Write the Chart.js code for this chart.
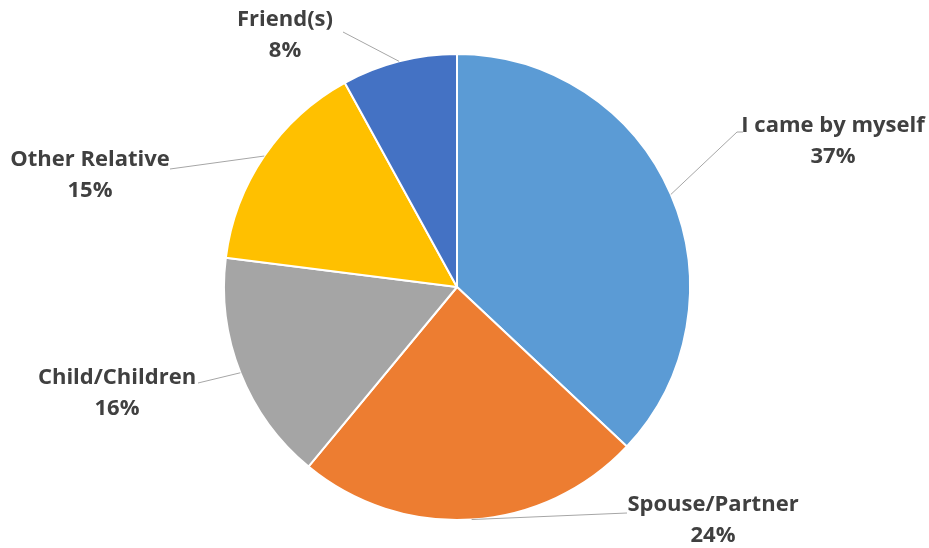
<!DOCTYPE html>
<html>
<head>
<meta charset="utf-8">
<script src="https://cdn.jsdelivr.net/npm/chart.js@4"></script>
<style>
  html, body { margin: 0; padding: 0; background: #fff; }
  #wrap { width: 929px; height: 548px; position: relative; }
</style>
</head>
<body>
<div id="wrap"><canvas id="chart"></canvas></div>
<script>
const categories = ["I came by myself", "Spouse/Partner", "Child/Children", "Other Relative", "Friend(s)"];
const shares = [37, 24, 16, 15, 8];
const sliceColors = ["#5B9BD5", "#ED7D31", "#A5A5A5", "#FFC000", "#4472C4"];

// where each callout sits, offset from the pie centre (px)
// text: centre of the first text line; end: where the leader line stops; elbow: optional bend
const callouts = [
  { text: [376, -161], end: [286, -155], elbow: [280, -155] },
  { text: [256, 218], end: [170, 226] },
  { text: [-340, 91], end: [-259, 96] },
  { text: [-367, -127], end: [-287, -118] },
  { text: [-172, -267], end: [-114, -255] }
];

const calloutPlugin = {
  id: "callouts",
  afterDatasetsDraw(chart) {
    const ctx = chart.ctx;
    const meta = chart.getDatasetMeta(0);
    ctx.save();
    meta.data.forEach((arc, i) => {
      const c = callouts[i];
      const mid = (arc.startAngle + arc.endAngle) / 2;
      const sx = arc.x + Math.cos(mid) * arc.outerRadius;
      const sy = arc.y + Math.sin(mid) * arc.outerRadius;

      ctx.strokeStyle = "#A6A6A6";
      ctx.lineWidth = 1;
      ctx.beginPath();
      ctx.moveTo(sx, sy);
      if (c.elbow) ctx.lineTo(arc.x + c.elbow[0], arc.y + c.elbow[1]);
      ctx.lineTo(arc.x + c.end[0], arc.y + c.end[1]);
      ctx.stroke();

      ctx.fillStyle = "#404040";
      ctx.font = "bold 22px 'Open Sans', sans-serif";
      ctx.textAlign = "center";
      ctx.textBaseline = "middle";
      const tx = arc.x + c.text[0];
      const ty = arc.y + c.text[1];
      ctx.fillText(categories[i], tx, ty);
      ctx.fillText(shares[i] + "%", tx, ty + 31);
    });
    ctx.restore();
  }
};

const ctx = document.getElementById("chart").getContext("2d");

new Chart(ctx, {
  type: "pie",
  data: {
    labels: categories,
    datasets: [{
      data: shares,
      backgroundColor: sliceColors,
      borderColor: "#ffffff",
      borderWidth: 2
    }]
  },
  options: {
    responsive: true,
    maintainAspectRatio: false,
    animation: false,
    layout: {
      padding: { top: 53, bottom: 27, left: 223, right: 238 }
    },
    plugins: {
      legend: { display: false },
      tooltip: { enabled: false }
    }
  },
  plugins: [calloutPlugin]
});
</script>
</body>
</html>
